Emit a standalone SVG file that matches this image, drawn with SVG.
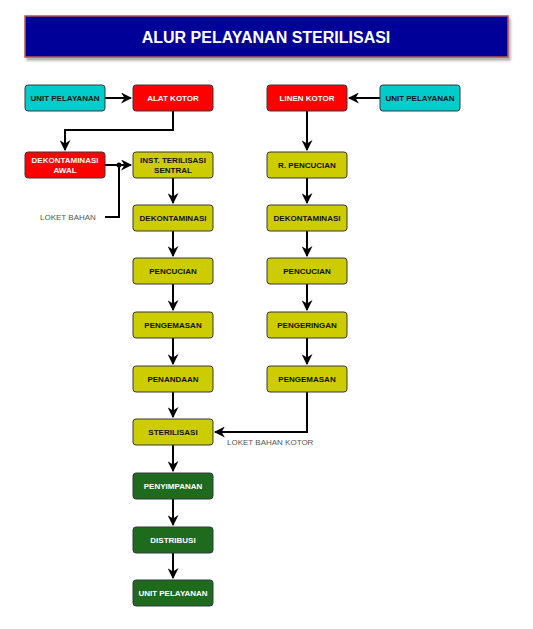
<svg xmlns="http://www.w3.org/2000/svg" width="533" height="629" viewBox="0 0 533 629">
<style>
.n{stroke:#36393d;stroke-width:1}
.cy{fill:#00cccc}.rd{fill:#ff0000}.ol{fill:#cccc00}.gr{fill:#1e6b1e}
.t{font-family:"Liberation Sans",Arial,sans-serif;font-weight:bold;font-size:8px;text-anchor:middle}
.dk{fill:#111}.wh{fill:#fff}
.lb{font-family:"Liberation Sans",Arial,sans-serif;font-size:8px;fill:#555}
.c{fill:none;stroke:#000;stroke-width:2}
</style>
<defs>
<marker id="a" viewBox="0 0 10 10" refX="9" refY="5" markerWidth="5.5" markerHeight="5.5" orient="auto" markerUnits="strokeWidth">
<path d="M0,0 L10,5 L0,10 L3,5 Z" fill="#000"/>
</marker>
<filter id="sh" x="-5%" y="-20%" width="110%" height="150%">
<feDropShadow dx="2" dy="3" stdDeviation="1.2" flood-color="#000" flood-opacity="0.3"/>
</filter>
</defs>
<g id="title">
<rect x="25" y="16" width="483" height="41" fill="#000099" stroke="#b85450" stroke-width="1.5" filter="url(#sh)"/>
<text x="266" y="43" font-family="Liberation Sans,Arial,sans-serif" font-weight="bold" font-size="16" fill="#fff" text-anchor="middle">ALUR PELAYANAN STERILISASI</text>
</g>
<g id="connectors">
<path class="c" d="M105,98 H131" marker-end="url(#a)"/>
<path class="c" d="M173,111 V130 H65 V150" marker-end="url(#a)"/>
<path class="c" d="M105,165 H131" marker-end="url(#a)"/>
<path class="c" d="M105,217 H119 V165"/>
<circle cx="119" cy="165" r="2.5" fill="#000"/>
<path class="c" d="M173,178 V203" marker-end="url(#a)"/>
<path class="c" d="M173,231 V256" marker-end="url(#a)"/>
<path class="c" d="M173,284 V310" marker-end="url(#a)"/>
<path class="c" d="M173,338 V364" marker-end="url(#a)"/>
<path class="c" d="M173,392 V417" marker-end="url(#a)"/>
<path class="c" d="M173,445 V471" marker-end="url(#a)"/>
<path class="c" d="M173,499 V525" marker-end="url(#a)"/>
<path class="c" d="M173,553 V578" marker-end="url(#a)"/>
<path class="c" d="M380,98 H349" marker-end="url(#a)"/>
<path class="c" d="M307,111 V150" marker-end="url(#a)"/>
<path class="c" d="M307,178 V203" marker-end="url(#a)"/>
<path class="c" d="M307,231 V256" marker-end="url(#a)"/>
<path class="c" d="M307,284 V310" marker-end="url(#a)"/>
<path class="c" d="M307,338 V364" marker-end="url(#a)"/>
<path class="c" d="M307,392 V432 H215" marker-end="url(#a)"/>
<text class="lb" x="40" y="220">LOKET BAHAN</text>
<text class="lb" x="227" y="445">LOKET BAHAN KOTOR</text>
</g>
<g id="unit1"><rect class="n cy" x="25" y="85" width="80" height="26" rx="3"/><text class="t dk" x="65" y="101">UNIT PELAYANAN</text></g>
<g id="alat"><rect class="n rd" x="133" y="85" width="80" height="26" rx="3"/><text class="t wh" x="173" y="101">ALAT KOTOR</text></g>
<g id="dekawal"><rect class="n rd" x="25" y="152" width="80" height="26" rx="3"/><text class="t wh" x="65" y="163">DEKONTAMINASI</text><text class="t wh" x="65" y="172.5">AWAL</text></g>
<g id="inst"><rect class="n ol" x="133" y="152" width="80" height="26" rx="3"/><text class="t dk" x="173" y="163">INST. TERILISASI</text><text class="t dk" x="173" y="172.5">SENTRAL</text></g>
<g id="dek1"><rect class="n ol" x="133" y="205" width="80" height="26" rx="3"/><text class="t dk" x="173" y="221">DEKONTAMINASI</text></g>
<g id="cuci1"><rect class="n ol" x="133" y="258" width="80" height="26" rx="3"/><text class="t dk" x="173" y="274">PENCUCIAN</text></g>
<g id="kemas1"><rect class="n ol" x="133" y="312" width="80" height="26" rx="3"/><text class="t dk" x="173" y="328">PENGEMASAN</text></g>
<g id="tanda"><rect class="n ol" x="133" y="366" width="80" height="26" rx="3"/><text class="t dk" x="173" y="382">PENANDAAN</text></g>
<g id="steril"><rect class="n ol" x="133" y="419" width="80" height="26" rx="3"/><text class="t dk" x="173" y="435">STERILISASI</text></g>
<g id="simpan"><rect class="n gr" x="133" y="473" width="80" height="26" rx="3"/><text class="t wh" x="173" y="489">PENYIMPANAN</text></g>
<g id="distribusi"><rect class="n gr" x="133" y="527" width="80" height="26" rx="3"/><text class="t wh" x="173" y="543">DISTRIBUSI</text></g>
<g id="unit3"><rect class="n gr" x="133" y="580" width="80" height="26" rx="3"/><text class="t wh" x="173" y="596">UNIT PELAYANAN</text></g>
<g id="linen"><rect class="n rd" x="267" y="85" width="80" height="26" rx="3"/><text class="t wh" x="307" y="101">LINEN KOTOR</text></g>
<g id="unit2"><rect class="n cy" x="380" y="85" width="80" height="26" rx="3"/><text class="t dk" x="420" y="101">UNIT PELAYANAN</text></g>
<g id="rcuci"><rect class="n ol" x="267" y="152" width="80" height="26" rx="3"/><text class="t dk" x="307" y="168">R. PENCUCIAN</text></g>
<g id="dek2"><rect class="n ol" x="267" y="205" width="80" height="26" rx="3"/><text class="t dk" x="307" y="221">DEKONTAMINASI</text></g>
<g id="cuci2"><rect class="n ol" x="267" y="258" width="80" height="26" rx="3"/><text class="t dk" x="307" y="274">PENCUCIAN</text></g>
<g id="kering"><rect class="n ol" x="267" y="312" width="80" height="26" rx="3"/><text class="t dk" x="307" y="328">PENGERINGAN</text></g>
<g id="kemas2"><rect class="n ol" x="267" y="366" width="80" height="26" rx="3"/><text class="t dk" x="307" y="382">PENGEMASAN</text></g>
</svg>
